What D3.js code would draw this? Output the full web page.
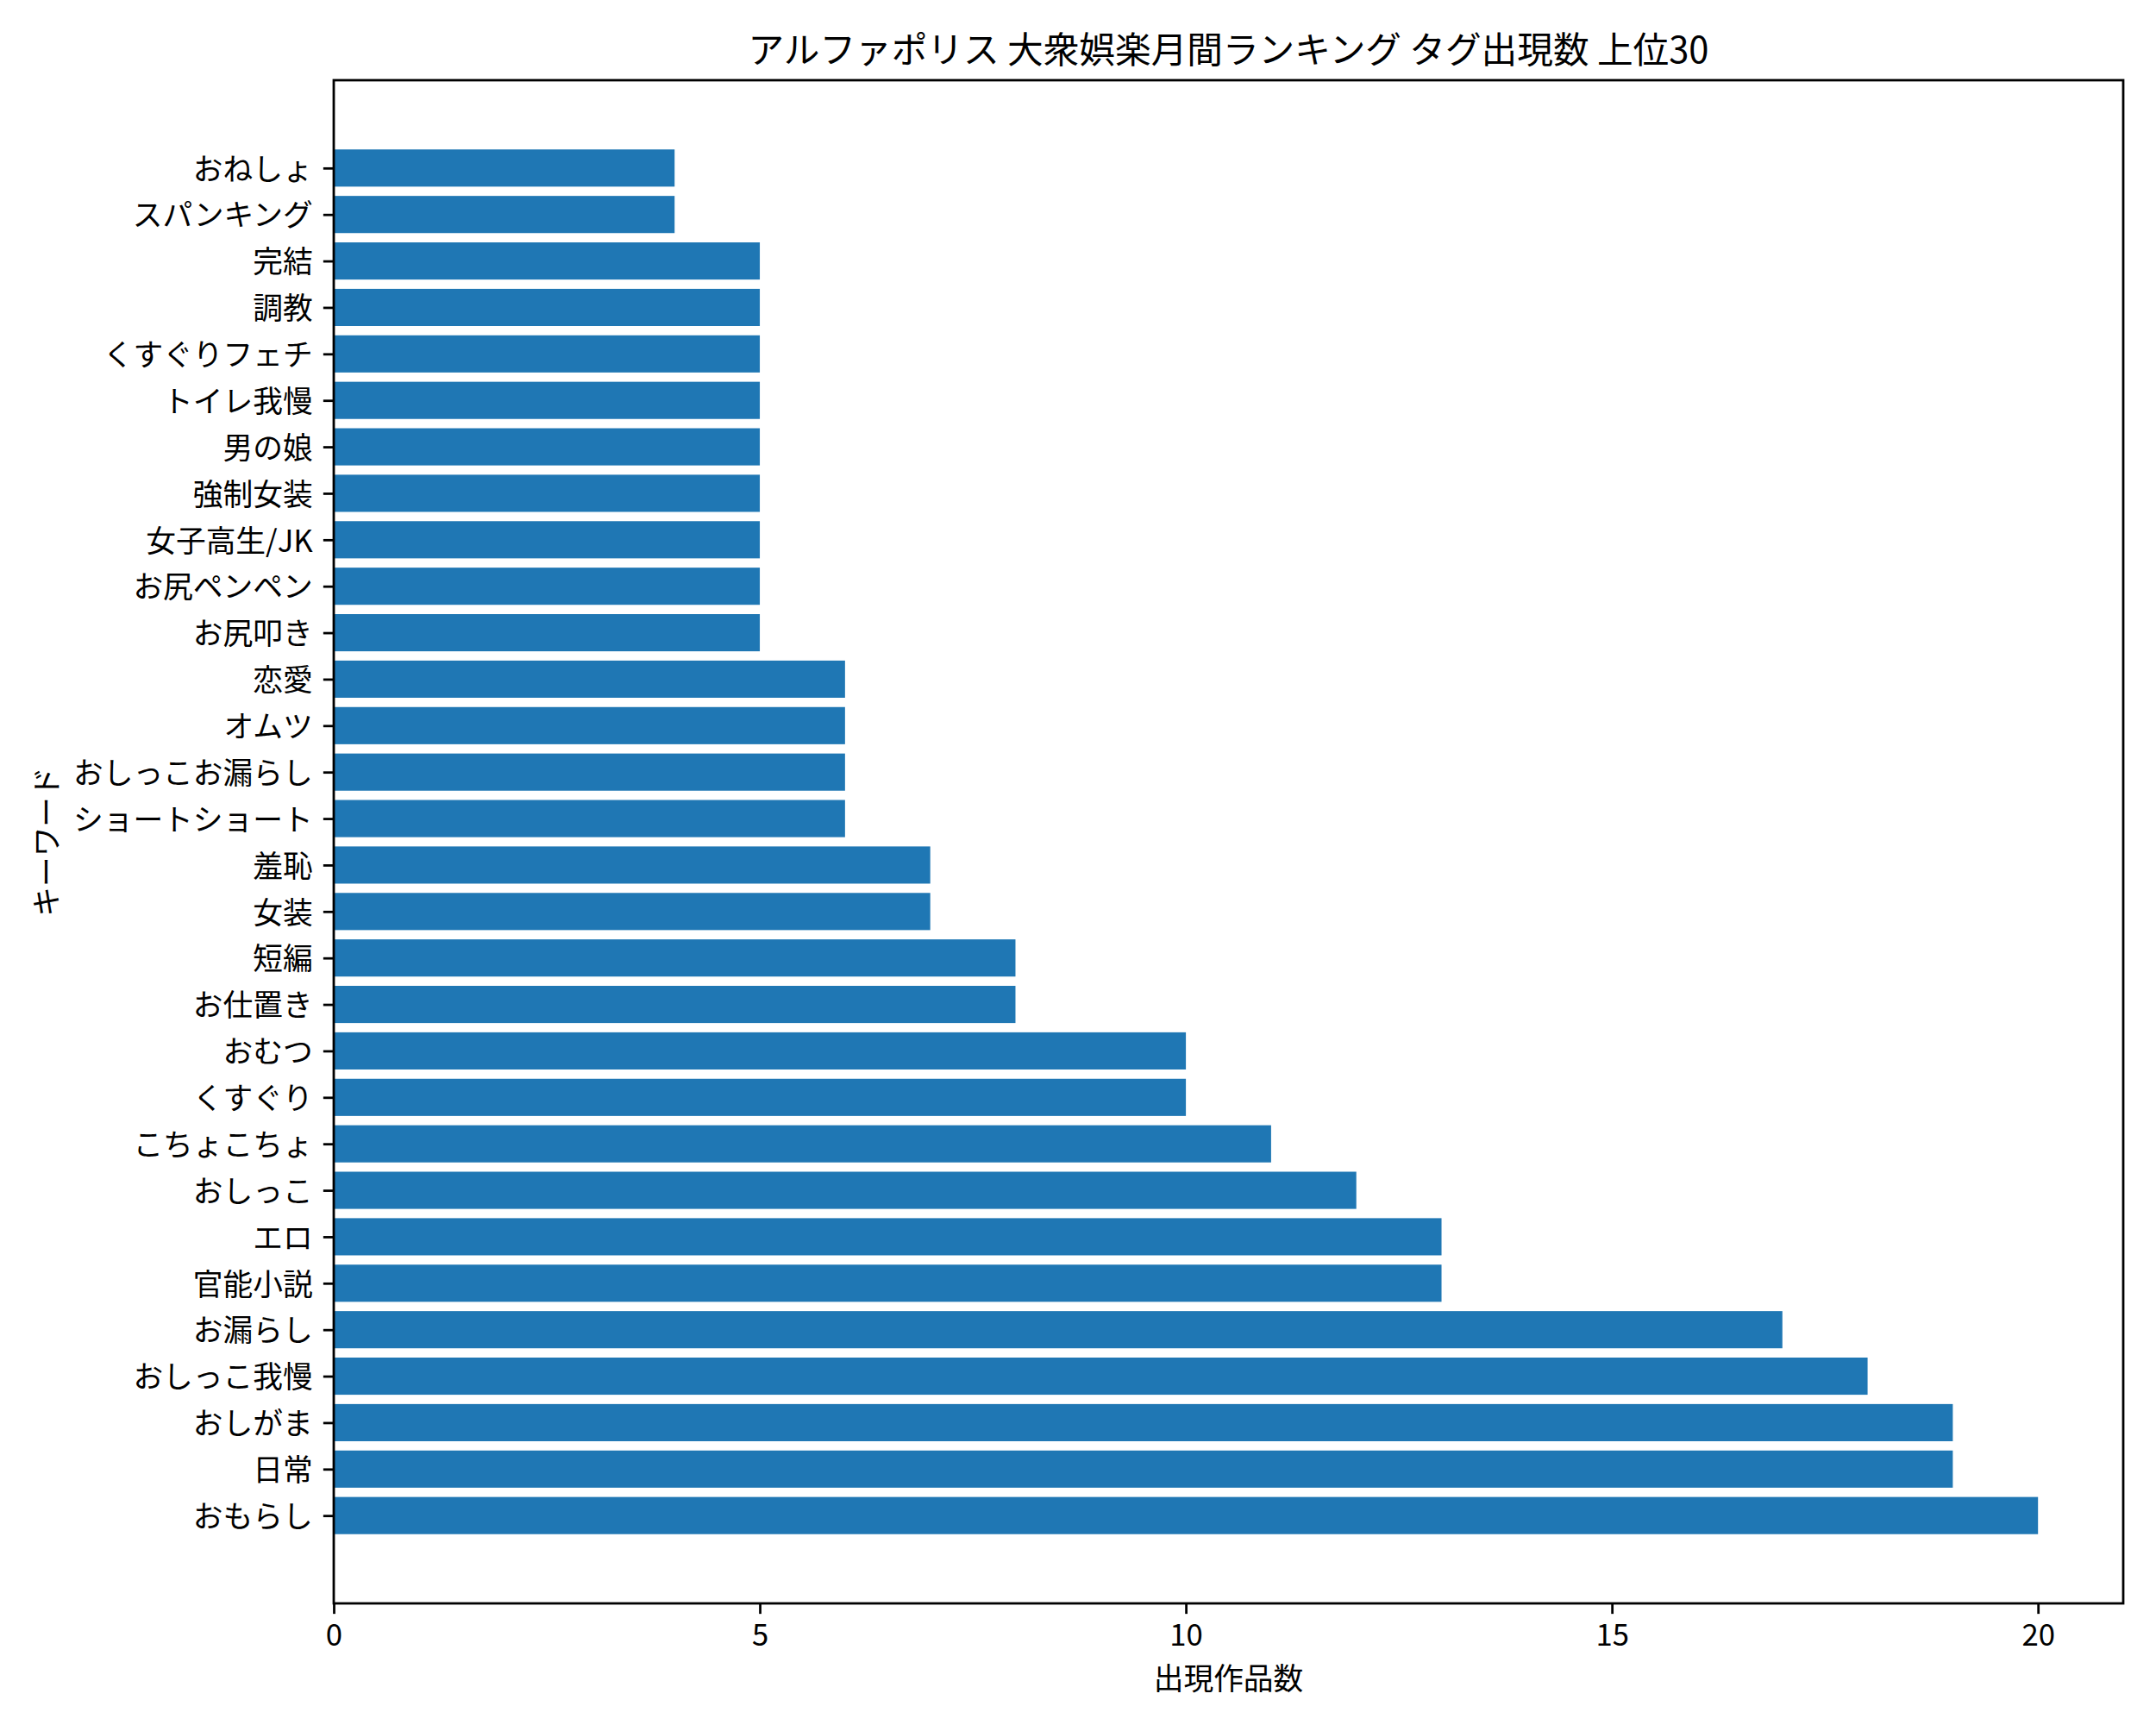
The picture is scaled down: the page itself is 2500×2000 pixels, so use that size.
<!DOCTYPE html>
<html>
<head>
<meta charset="utf-8">
<script src="https://cdn.jsdelivr.net/npm/d3@7"></script>
<style>
  html, body { margin: 0; padding: 0; background: #fff; }
  svg { display: block; }
  text { font-family: "Noto Sans CJK JP", "Noto Sans", sans-serif; fill: #000; }
</style>
</head>
<body>
<svg id="chart" width="2500" height="2000"></svg>
<script>
// Categories from bottom (index 0) to top (index 29)
const keywords = [
  "おもらし", "日常", "おしがま", "おしっこ我慢", "お漏らし", "官能小説", "エロ", "おしっこ",
  "こちょこちょ", "くすぐり", "おむつ", "お仕置き", "短編", "女装", "羞恥",
  "ショートショート", "おしっこお漏らし", "オムツ", "恋愛", "お尻叩き", "お尻ペンペン",
  "女子高生/JK", "強制女装", "男の娘", "トイレ我慢", "くすぐりフェチ", "調教", "完結",
  "スパンキング", "おねしょ"
];
const counts = [
  20, 19, 19, 18, 17, 13, 13, 12,
  11, 10, 10, 8, 8, 7, 7,
  6, 6, 6, 6, 5, 5,
  5, 5, 5, 5, 5, 5, 5,
  4, 4
];
const xTicks = [0, 5, 10, 15, 20];
const titleText = "アルファポリス 大衆娯楽月間ランキング タグ出現数 上位30";
const xLabelText = "出現作品数";
const yLabelText = "キーワード";

(function () {
  const W = 2500, H = 2000;
  const pL = 387, pR = 2462, pT = 93, pB = 1859;
  const pt = 250 / 72;          // px per point
  const fs = 10 * pt;           // 10pt
  const titleFs = 12 * pt;      // 12pt
  const lw = 0.8 * pt;
  const tickLen = 3.5 * pt, tickPad = 3.5 * pt;
  const barH = 0.8;

  const data = keywords.map((k, i) => ({ k, v: counts[i], i }));

  const xMax = d3.max(counts) * 1.05;
  const x = d3.scaleLinear().domain([0, xMax]).range([pL, pR]);
  const yLo = -barH / 2, yHi = (keywords.length - 1) + barH / 2;
  const yMarg = (yHi - yLo) * 0.05;
  const y = d3.scaleLinear().domain([yLo - yMarg, yHi + yMarg]).range([pB, pT]);

  const svg = d3.select("#chart");
  svg.append("rect").attr("width", W).attr("height", H).attr("fill", "#fff");

  // bars
  svg.append("g").selectAll("rect").data(data).join("rect")
    .attr("x", x(0))
    .attr("y", d => y(d.i + barH / 2))
    .attr("width", d => x(d.v) - x(0))
    .attr("height", d => y(d.i - barH / 2) - y(d.i + barH / 2))
    .attr("fill", "#1f77b4");

  // frame
  svg.append("rect")
    .attr("x", pL).attr("y", pT)
    .attr("width", pR - pL).attr("height", pB - pT)
    .attr("fill", "none").attr("stroke", "#000").attr("stroke-width", lw);

  // x axis
  const gx = svg.append("g").attr("transform", `translate(0,${pB})`)
    .call(d3.axisBottom(x).tickValues(xTicks).tickFormat(d3.format("d"))
      .tickSize(tickLen).tickPadding(tickPad));
  gx.select(".domain").remove();
  gx.selectAll(".tick line").attr("stroke", "#000").attr("stroke-width", lw);
  gx.selectAll(".tick text").attr("font-size", fs)
    .attr("font-family", "'Noto Sans CJK JP', sans-serif")
    .attr("fill", "#000")
    .attr("y", 49).attr("dy", null);

  // y axis
  const gy = svg.append("g").attr("transform", `translate(${pL},0)`)
    .call(d3.axisLeft(y).tickValues(d3.range(keywords.length))
      .tickFormat(i => keywords[i]).tickSize(tickLen).tickPadding(tickPad));
  gy.select(".domain").remove();
  gy.selectAll(".tick line").attr("stroke", "#000").attr("stroke-width", lw);
  gy.selectAll(".tick text").attr("font-size", fs)
    .attr("font-family", "'Noto Sans CJK JP', sans-serif")
    .attr("fill", "#000")
    .attr("dy", "0.38em");

  // title
  svg.append("text")
    .attr("x", (pL + pR) / 2).attr("y", 73)
    .attr("text-anchor", "middle").attr("font-size", titleFs)
    .text(titleText);

  // x label
  svg.append("text")
    .attr("x", (pL + pR) / 2).attr("y", 1959)
    .attr("text-anchor", "middle").attr("font-size", fs)
    .text(xLabelText);

  // y label
  svg.append("text")
    .attr("transform", `translate(67,${(pT + pB) / 2}) rotate(-90)`)
    .attr("text-anchor", "middle").attr("font-size", fs)
    .text(yLabelText);
})();
</script>
</body>
</html>
